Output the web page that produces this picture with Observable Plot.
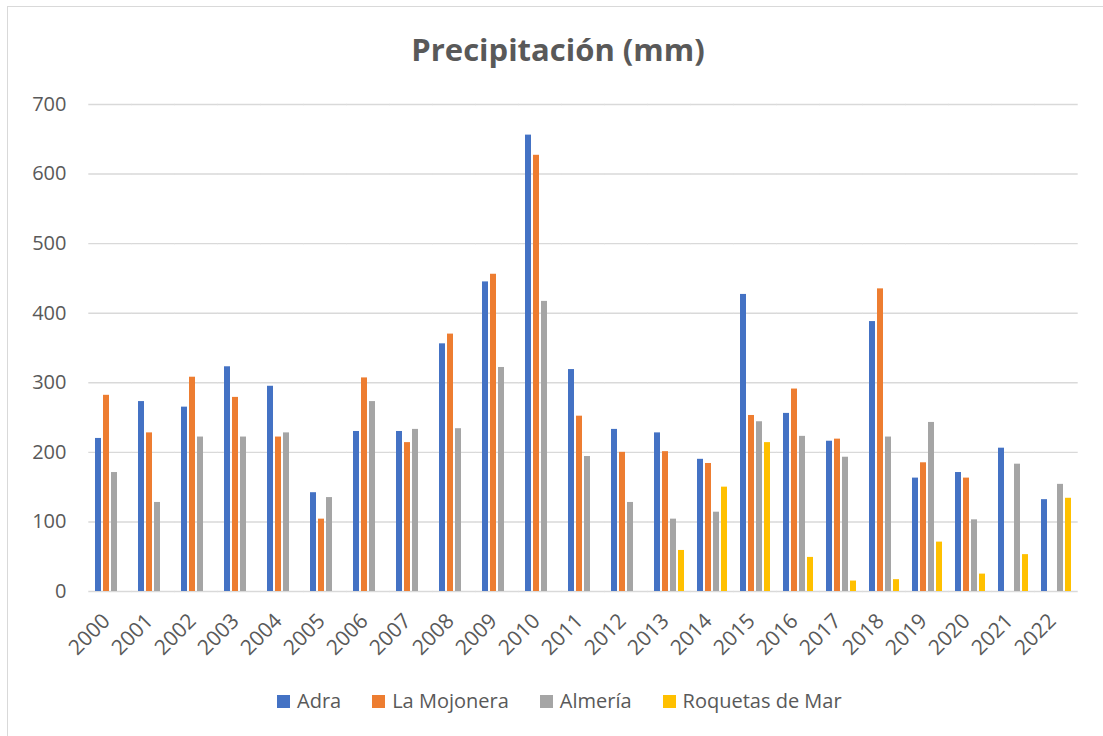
<!DOCTYPE html>
<html>
<head>
<meta charset="utf-8">
<script src="https://cdn.jsdelivr.net/npm/d3@7"></script>
<script src="https://cdn.jsdelivr.net/npm/@observablehq/plot@0.6"></script>
<style>
  html, body { margin: 0; padding: 0; background: #fff; }
  #frame { position: relative; width: 1103px; height: 736px; overflow: hidden; font-family: "Open Sans", sans-serif; color: #595959; }
  #border { position: absolute; left: 7px; top: 6px; width: 1120px; height: 760px; border: 1px solid #d9d9d9; box-sizing: border-box; }
  #title { position: absolute; left: 0; width: 1116px; top: 34px; text-align: center; font-size: 31px; font-weight: bold; line-height: 1; }
  #chart { position: absolute; left: 0; top: 80px; }
  #legend { position: absolute; left: 277px; top: 691px; display: flex; align-items: center; font-size: 20px; line-height: 1; }
  .item { display: flex; align-items: center; margin-right: 31px; }
  .sw { width: 13px; height: 13px; margin-right: 7px; }
</style>
</head>
<body>
<div id="frame">
  <div id="border"></div>
  <div id="title">Precipitación (mm)</div>
  <div id="chart"></div>
  <div id="legend"></div>
</div>
<script>
const years = ["2000","2001","2002","2003","2004","2005","2006","2007","2008","2009","2010","2011","2012","2013","2014","2015","2016","2017","2018","2019","2020","2021","2022"];
const seriesNames = ["Adra", "La Mojonera", "Almería", "Roquetas de Mar"];
const seriesColors = ["#4472C4", "#ED7D31", "#A5A5A5", "#FFC000"];
const adra     = [220,273,265,323,295,142,230,230,356,445,656,319,233,228,190,427,256,216,388,163,171,206,132];
const mojonera = [282,228,308,279,222,104,307,214,370,456,627,252,200,201,184,253,291,219,435,185,163,null,null];
const almeria  = [171,128,222,222,228,135,273,233,234,322,417,194,128,104,114,244,223,193,222,243,103,183,154];
const roquetas = [null,null,null,null,null,null,null,null,null,null,null,null,null,59,150,214,49,15,17,71,25,53,134];
const yTicks = [0,100,200,300,400,500,600,700];

const seriesValues = [adra, mojonera, almeria, roquetas];
const data = [];
years.forEach((yr, i) => {
  seriesNames.forEach((s, j) => {
    const v = seriesValues[j][i];
    if (v != null) data.push({year: yr, series: s, value: v});
  });
});

const chart = Plot.plot({
  width: 1103,
  height: 600,
  marginTop: 24,
  marginBottom: 89,
  marginLeft: 85,
  marginRight: 23,
  style: {fontFamily: "'Open Sans', sans-serif", fontSize: "20px", color: "#595959", background: "transparent", overflow: "visible"},
  fx: {domain: years, paddingInner: 0.307, paddingOuter: 0.1535, label: null},
  x: {domain: seriesNames, axis: null, paddingInner: 0.25, paddingOuter: 0},
  y: {domain: [0, 700], ticks: yTicks, tickSize: 0, tickPadding: 29, label: null},
  color: {domain: seriesNames, range: seriesColors},
  marks: [
    Plot.ruleY(yTicks, {stroke: "#d9d9d9", strokeWidth: 1.4, insetLeft: -6.7, insetRight: -6.7}),
    Plot.barY(data, {fx: "year", x: "series", y: "value", fill: "series"}),
    Plot.axisFx({anchor: "bottom", tickRotate: -45, tickSize: 0, tickPadding: 8, dx: -4, dy: 18, fontSize: 21, label: null})
  ]
});
document.getElementById("chart").appendChild(chart);

const legend = document.getElementById("legend");
seriesNames.forEach((s, j) => {
  const item = document.createElement("div");
  item.className = "item";
  const sw = document.createElement("div");
  sw.className = "sw";
  sw.style.background = seriesColors[j];
  const t = document.createElement("span");
  t.textContent = s;
  item.appendChild(sw);
  item.appendChild(t);
  legend.appendChild(item);
});
</script>
</body>
</html>
